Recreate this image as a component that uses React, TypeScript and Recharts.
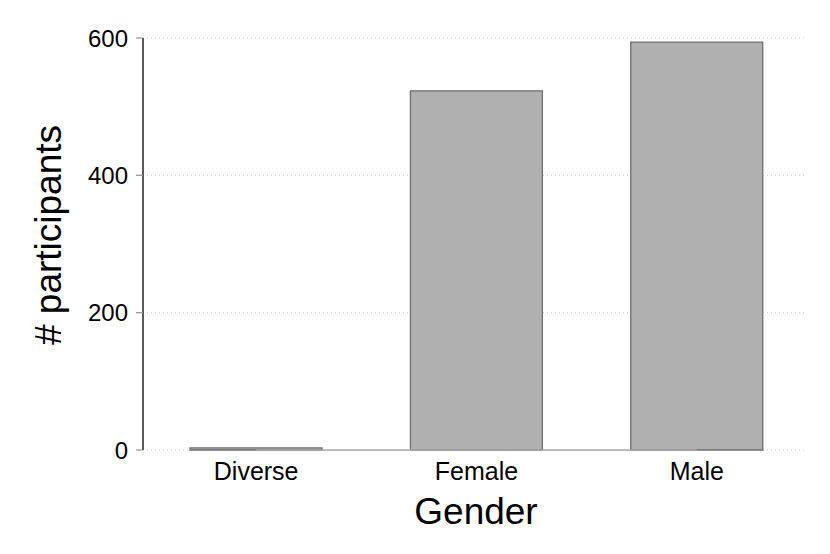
import React from "react";
import { BarChart, Bar, XAxis, YAxis, CartesianGrid, ReferenceLine } from "recharts";

const genders = ["Diverse", "Female", "Male"];
const participants = [3, 523, 594];
const yTicks = [0, 200, 400, 600];

const data = genders.map((g, i) => ({ gender: g, count: participants[i] }));

const FONT = "'Liberation Sans', Arial, Helvetica, sans-serif";

const YTitle = (props: any) => {
  const vb = props.viewBox || {};
  const cx = (vb.x || 0) + 61;
  const cy = (vb.y || 0) + (vb.height || 0) / 2 - 9;
  return (
    <text
      x={cx}
      y={cy}
      transform={`rotate(-90, ${cx}, ${cy})`}
      textAnchor="middle"
      fontSize={37}
      fill="#000"
      fontFamily={FONT}
    >
      # participants
    </text>
  );
};

const XTitle = (props: any) => {
  const vb = props.viewBox || {};
  const cx = (vb.x || 0) + (vb.width || 0) / 2 + 1;
  const cy = (vb.y || 0) + 74;
  return (
    <text x={cx} y={cy} textAnchor="middle" fontSize={37} fill="#000" fontFamily={FONT}>
      Gender
    </text>
  );
};

export default function App() {
  return (
    <div style={{ position: "absolute", left: 0, top: 0, background: "#fff" }}>
      <BarChart
        width={830}
        height={554}
        data={data}
        margin={{ top: 38, right: 23, left: 0, bottom: 0 }}
        barCategoryGap="20%"
      >
        <CartesianGrid
          vertical={false}
          stroke="#c4c4c4"
          strokeDasharray="1 3"
          horizontalValues={yTicks}
        />
        <XAxis
          dataKey="gender"
          height={104}
          padding={{ left: 3, right: 0 }}
          axisLine={false}
          tickLine={false}
          tickSize={6}
          tickMargin={6}
          tick={{ fontSize: 25, fill: "#000", fontFamily: FONT }}
          label={<XTitle />}
        />
        <YAxis
          width={143}
          domain={[0, 600]}
          ticks={yTicks}
          axisLine={{ stroke: "#000", strokeWidth: 1.3 }}
          tickLine={{ stroke: "#9a9a9a", strokeWidth: 1.3 }}
          tickSize={7}
          tickMargin={8}
          tick={{ fontSize: 24, fill: "#000", fontFamily: FONT }}
          label={<YTitle />}
        />
        <ReferenceLine
          segment={[
            { x: "Diverse", y: 0 },
            { x: "Male", y: 0 },
          ]}
          stroke="#a8a8a8"
          strokeWidth={1.5}
        />
        <Bar
          dataKey="count"
          fill="#b0b0b0"
          stroke="#6f6f6f"
          strokeWidth={1.3}
          isAnimationActive={false}
        />
      </BarChart>
    </div>
  );
}
